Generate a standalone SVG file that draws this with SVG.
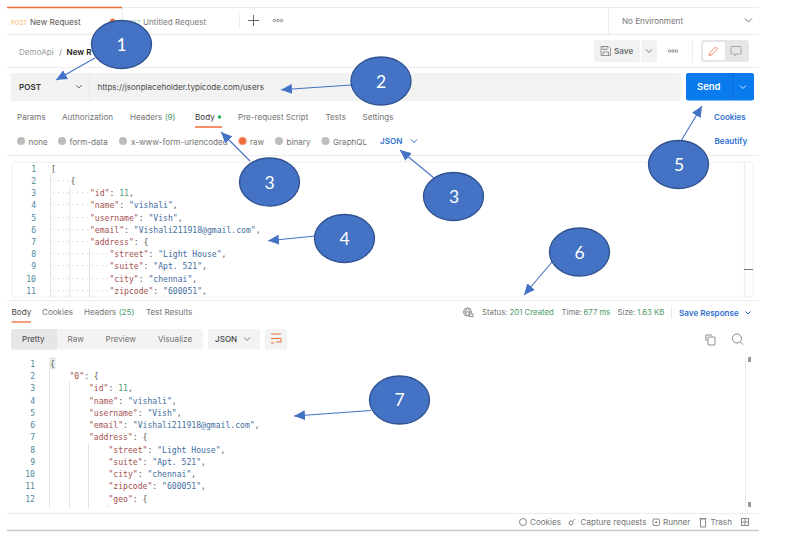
<svg xmlns="http://www.w3.org/2000/svg" width="800" height="558" viewBox="0 0 800 558">
<defs>
<marker id="ah" markerUnits="userSpaceOnUse" markerWidth="12" markerHeight="10" refX="11" refY="5" orient="auto"><path d="M0 0L11 5L0 10Z" fill="#4472c4"/></marker>
<clipPath id="respClip"><rect x="7" y="355" width="740" height="153"/></clipPath>
</defs>
<style>
text{font-family:"Inter","Liberation Sans",sans-serif;font-size:8.1px;fill:#747474}
.m{font-family:"DejaVu Sans Mono","Liberation Mono",monospace;font-size:8.1px;white-space:pre}
.n{fill:#4d8a9c;text-anchor:end}
.k{fill:#a5524f}.s{fill:#3f6e9e}.g{fill:#4f9a73}.p{fill:#555}
.dots{fill:#d4d4d4}
.d{fill:#212121;font-weight:600}
.b{fill:#2f6fd0;font-weight:600}
.gr{fill:#4f9a6b}
.l{stroke:#ececec;stroke-width:1;fill:none}
.i{stroke:#e2e2e2;stroke-width:1;fill:none}
.c{fill:none;stroke:#777;stroke-width:1}
.r{fill:#bdbdbd}
.o{fill:#4472c4;stroke:#2f528f;stroke-width:1.3}
.t{font-family:"Lato","Liberation Sans",sans-serif;font-size:17.5px;fill:#fff;text-anchor:middle}
.a{stroke:#4472c4;stroke-width:1.1;fill:none;marker-end:url(#ah)}
</style>
<rect width="800" height="558" fill="#fff"/>
<g id="app-chrome">
<path class="l" d="M7 7.5H759M7 34.5H759M7 67.5H759M7 155.5H759M7 300.5H759M7 513.5H759"/>
<path d="M7 7.5H122" stroke="#f26b3a" stroke-width="1.5"/>
<path class="l" d="M122.500 7V34M239.500 14V28M608.500 7V34"/>
<path d="M7 530.500H759" stroke="#c9c9c9" stroke-width="1.5"/>
<text x="11" y="24.500" style="fill:#f5b267;font-size:6px">POST</text>
<text x="30" y="24.500" style="fill:#555">New Request</text>
<circle cx="112.500" cy="21" r="2.500" fill="#f26b3a"/>
<text x="129" y="24.500" style="fill:#8bc7a4;font-size:6px">GET</text>
<text x="143" y="24.500" style="fill:#7d7d7d">Untitled Request</text>
<path d="M253.500 15V26M248 20.500H259" stroke="#666" stroke-width="1"/>
<g fill="none" stroke="#777" stroke-width=".8"><circle cx="274.500" cy="20.500" r="1.300"/><circle cx="278" cy="20.500" r="1.300"/><circle cx="281.500" cy="20.500" r="1.300"/></g>
<text x="622" y="23.500" style="fill:#777">No Environment</text>
<path class="c" d="M745 18.500L748.500 22L752 18.500"/>
<text x="19" y="54.500" style="fill:#9a9a9a">DemoApi</text>
<text x="59" y="54.500" style="fill:#888">/</text>
<text x="66.500" y="54.500" class="d">New R</text>
<rect x="594" y="40" width="46" height="22" rx="2" fill="#f2f2f2"/>
<rect x="641" y="40" width="16" height="22" rx="2" fill="#f2f2f2"/>
<path d="M601 46.500H608.500L610.500 48.500V55.500H601ZM603 46.500V49.500H607V46.500M603 55.500V52H608.500V55.500" fill="none" stroke="#888" stroke-width=".9"/>
<text x="614" y="54" style="fill:#6e6e6e;font-weight:600">Save</text>
<path class="c" d="M646 49.500L649 52.500L652 49.500"/>
<g fill="none" stroke="#777" stroke-width=".8"><circle cx="669.500" cy="51" r="1.300"/><circle cx="673" cy="51" r="1.300"/><circle cx="676.500" cy="51" r="1.300"/></g>
<path class="l" d="M692.500 40V62"/>
<rect x="701" y="40" width="48" height="22" rx="3" fill="#e6e6e6"/>
<rect x="703" y="42" width="22" height="18" rx="2" fill="#fff"/>
<path d="M709 56L710 52.500L715.500 47L717.500 49L712 54.500Z" fill="none" stroke="#f0896a" stroke-width="1"/>
<path d="M731 46.500H741V54H736L735 56V54H731Z" fill="none" stroke="#aaa" stroke-width="1"/>
</g>
<g id="request-bar">
<rect x="11" y="73" width="670" height="28" rx="2" fill="#f2f2f2"/>
<path d="M89.500 73V101" stroke="#e8e8e8"/>
<text x="19" y="90" class="d" style="fill:#333">POST</text>
<path class="c" d="M76 85L79 88L82 85"/>
<text x="97.500" y="90" style="fill:#4a4a4a">https://jsonplaceholder.typicode.com/users</text>
<rect x="686" y="73" width="68" height="27.500" rx="2" fill="#0a7bee"/>
<path d="M733 73V100" stroke="#0a6fd8"/>
<text x="697" y="90" style="fill:#fff;font-weight:600;font-size:9.500px">Send</text>
<path d="M740 85.500L743 88.500L746 85.500" fill="none" stroke="#d5e8ff"/>
</g>
<g id="request-tabs">
<text x="17" y="119.500">Params</text>
<text x="62" y="119.500">Authorization</text>
<text x="130" y="119.500">Headers <tspan class="gr">(9)</tspan></text>
<text x="195" y="119.500" style="fill:#333">Body</text>
<circle cx="219.500" cy="117" r="1.800" fill="#1db954"/>
<path d="M195 127H222" stroke="#f26b3a" stroke-width="1.500"/>
<text x="238" y="119.500">Pre-request Script</text>
<text x="325.500" y="119.500">Tests</text>
<text x="362.500" y="119.500">Settings</text>
<text x="714" y="119.500" class="b">Cookies</text>
<circle cx="21" cy="141" r="4" class="r"/><text x="28.500" y="144.500">none</text>
<circle cx="62" cy="141" r="4" class="r"/><text x="69.500" y="144.500">form-data</text>
<circle cx="123" cy="141" r="4" class="r"/><text x="131" y="144.500">x-www-form-urlencoded</text>
<circle cx="242.500" cy="141" r="4" fill="#f26b3a" stroke="#f5b8a0"/><text x="250" y="144.500">raw</text>
<circle cx="279" cy="141" r="4" class="r"/><text x="286.500" y="144.500">binary</text>
<circle cx="325.500" cy="141" r="4" class="r"/><text x="333" y="144.500">GraphQL</text>
<text x="380" y="144" class="b">JSON</text>
<path d="M411 139.500L414 142.500L417 139.500" fill="none" stroke="#2f6fd0"/>
<text x="714.500" y="144" class="b">Beautify</text>
</g>
<g id="request-editor">
<rect x="12" y="162" width="741" height="135" rx="2" fill="none" stroke="#eee"/>
<path d="M744.500 162V297" stroke="#eee" stroke-width="1.500"/>
<path d="M744 269.500H753" stroke="#777"/>
<path class="i" d="M50.500 175V297M70 187V297M89.500 248V297"/>
<text class="m n" x="36" y="171.800">1</text><text class="m p" x="51" y="171.800">[</text>
<text class="m n" x="36" y="184">2</text><text class="m dots" x="51" y="184">····<tspan class="p">{</tspan></text>
<text class="m n" x="36" y="196.200">3</text><text class="m dots" x="51" y="196.200">········<tspan class="k">"id"</tspan><tspan class="p">: </tspan><tspan class="g">11</tspan><tspan class="p">,</tspan></text>
<text class="m n" x="36" y="208.400">4</text><text class="m dots" x="51" y="208.400">········<tspan class="k">"name"</tspan><tspan class="p">: </tspan><tspan class="s">"vishali"</tspan><tspan class="p">,</tspan></text>
<text class="m n" x="36" y="220.600">5</text><text class="m dots" x="51" y="220.600">········<tspan class="k">"username"</tspan><tspan class="p">: </tspan><tspan class="s">"Vish"</tspan><tspan class="p">,</tspan></text>
<text class="m n" x="36" y="232.800">6</text><text class="m dots" x="51" y="232.800">········<tspan class="k">"email"</tspan><tspan class="p">: </tspan><tspan class="s">"Vishali211918@gmail.com"</tspan><tspan class="p">,</tspan></text>
<text class="m n" x="36" y="245">7</text><text class="m dots" x="51" y="245">········<tspan class="k">"address"</tspan><tspan class="p">: {</tspan></text>
<text class="m n" x="36" y="257.200">8</text><text class="m dots" x="51" y="257.200">············<tspan class="k">"street"</tspan><tspan class="p">: </tspan><tspan class="s">"Light House"</tspan><tspan class="p">,</tspan></text>
<text class="m n" x="36" y="269.400">9</text><text class="m dots" x="51" y="269.400">············<tspan class="k">"suite"</tspan><tspan class="p">: </tspan><tspan class="s">"Apt. 521"</tspan><tspan class="p">,</tspan></text>
<text class="m n" x="36" y="281.600">10</text><text class="m dots" x="51" y="281.600">············<tspan class="k">"city"</tspan><tspan class="p">: </tspan><tspan class="s">"chennai"</tspan><tspan class="p">,</tspan></text>
<text class="m n" x="36" y="293.800">11</text><text class="m dots" x="51" y="293.800">············<tspan class="k">"zipcode"</tspan><tspan class="p">: </tspan><tspan class="s">"600051"</tspan><tspan class="p">,</tspan></text>
</g>
<g id="response-tabs">
<text x="11.500" y="315" style="fill:#444">Body</text>
<path d="M11.500 322H31" stroke="#f26b3a" stroke-width="1.300"/>
<text x="42" y="315">Cookies</text>
<text x="84" y="315">Headers <tspan class="gr">(25)</tspan></text>
<text x="146" y="315">Test Results</text>
<g fill="none" stroke="#888" stroke-width=".9"><circle cx="467.500" cy="312" r="4"/><ellipse cx="467.500" cy="312" rx="1.800" ry="4"/><path d="M463.500 312H471.500"/><rect x="469.500" y="314" width="3.500" height="2.500" fill="#fff"/></g>
<text x="482" y="315" style="font-size:7.800px">Status:</text><text x="509.500" y="315" class="gr" style="font-size:7.800px">201 Created</text>
<text x="561.500" y="315" style="font-size:7.800px">Time:</text><text x="583.500" y="315" class="gr" style="font-size:7.800px">677 ms</text>
<text x="617.500" y="315" style="font-size:7.800px">Size:</text><text x="637" y="315" class="gr" style="font-size:7.800px">1.63 KB</text>
<path class="l" d="M671.500 306V319"/>
<text x="679" y="315.500" class="b">Save Response</text>
<path d="M745.500 311.500L748 314L750.500 311.500" fill="none" stroke="#2f6fd0"/>
<rect x="11" y="329" width="192" height="20.500" rx="2" fill="#f3f3f3"/>
<rect x="11" y="329" width="46" height="20.500" rx="2" fill="#e6e6e6"/>
<text x="22" y="341.500" style="fill:#444">Pretty</text>
<text x="67.500" y="341.500">Raw</text>
<text x="105.500" y="341.500">Preview</text>
<text x="158" y="341.500">Visualize</text>
<rect x="208" y="329" width="52" height="20.500" rx="2" fill="#f3f3f3"/>
<text x="215" y="341.500" style="fill:#444;font-weight:500">JSON</text>
<path class="c" d="M244 337.500L247 340.500L250 337.500"/>
<rect x="265" y="329" width="22" height="20.500" rx="2" fill="#f3f3f3"/>
<path d="M271 334H281M271 338.500H281V342H276M271 343H274" fill="none" stroke="#e8703a"/>
<rect x="708" y="337" width="7" height="8" rx="1" fill="none" stroke="#888"/>
<path d="M706 341V335H712" fill="none" stroke="#888"/>
<circle cx="737" cy="338.500" r="4.500" fill="none" stroke="#888"/><path d="M740.500 342L743 344.500" stroke="#888"/>
</g>
<g id="response-editor">
<path d="M745.500 357V508" stroke="#eee"/>
<rect x="748" y="357" width="3" height="5" fill="#999"/><rect x="748" y="502" width="3" height="5" fill="#999"/>
<rect x="50" y="358" width="5" height="11" fill="#e6efe6" stroke="#ccc" stroke-width=".5"/>
<g clip-path="url(#respClip)">
<path class="i" d="M49.500 370V508M69.500 382V508M88.500 443V508M108.500 505V508"/>
<text class="m n" x="35" y="366.700">1</text><text class="m p" x="50" y="366.700">{</text>
<text class="m n" x="35" y="379">2</text><text class="m" x="50" y="379" xml:space="preserve">    <tspan class="k">"0"</tspan><tspan class="p">: {</tspan></text>
<text class="m n" x="35" y="391.200">3</text><text class="m" x="50" y="391.200" xml:space="preserve">        <tspan class="k">"id"</tspan><tspan class="p">: </tspan><tspan class="g">11</tspan><tspan class="p">,</tspan></text>
<text class="m n" x="35" y="403.500">4</text><text class="m" x="50" y="403.500" xml:space="preserve">        <tspan class="k">"name"</tspan><tspan class="p">: </tspan><tspan class="s">"vishali"</tspan><tspan class="p">,</tspan></text>
<text class="m n" x="35" y="415.700">5</text><text class="m" x="50" y="415.700" xml:space="preserve">        <tspan class="k">"username"</tspan><tspan class="p">: </tspan><tspan class="s">"Vish"</tspan><tspan class="p">,</tspan></text>
<text class="m n" x="35" y="428">6</text><text class="m" x="50" y="428" xml:space="preserve">        <tspan class="k">"email"</tspan><tspan class="p">: </tspan><tspan class="s">"Vishali211918@gmail.com"</tspan><tspan class="p">,</tspan></text>
<text class="m n" x="35" y="440.300">7</text><text class="m" x="50" y="440.300" xml:space="preserve">        <tspan class="k">"address"</tspan><tspan class="p">: {</tspan></text>
<text class="m n" x="35" y="452.500">8</text><text class="m" x="50" y="452.500" xml:space="preserve">            <tspan class="k">"street"</tspan><tspan class="p">: </tspan><tspan class="s">"Light House"</tspan><tspan class="p">,</tspan></text>
<text class="m n" x="35" y="464.700">9</text><text class="m" x="50" y="464.700" xml:space="preserve">            <tspan class="k">"suite"</tspan><tspan class="p">: </tspan><tspan class="s">"Apt. 521"</tspan><tspan class="p">,</tspan></text>
<text class="m n" x="35" y="477">10</text><text class="m" x="50" y="477" xml:space="preserve">            <tspan class="k">"city"</tspan><tspan class="p">: </tspan><tspan class="s">"chennai"</tspan><tspan class="p">,</tspan></text>
<text class="m n" x="35" y="489.300">11</text><text class="m" x="50" y="489.300" xml:space="preserve">            <tspan class="k">"zipcode"</tspan><tspan class="p">: </tspan><tspan class="s">"600051"</tspan><tspan class="p">,</tspan></text>
<text class="m n" x="35" y="501.700">12</text><text class="m" x="50" y="501.700" xml:space="preserve">            <tspan class="k">"geo"</tspan><tspan class="p">: {</tspan></text>
</g>
</g>
<g id="status-bar">
<circle cx="523" cy="522" r="3.500" fill="none" stroke="#888"/>
<text x="530" y="525">Cookies</text>
<circle cx="571" cy="523" r="2" fill="none" stroke="#888"/><path d="M572.500 521.500L575 519" stroke="#888"/>
<text x="580.500" y="525">Capture requests</text>
<rect x="653" y="519" width="6.500" height="6.500" rx="1" fill="none" stroke="#888"/><circle cx="656.200" cy="522.200" r="1" fill="#777"/>
<text x="663" y="525">Runner</text>
<path d="M700.500 519H705.500V527H700.500ZM699.500 518.500H706.500" fill="none" stroke="#888"/>
<text x="710.500" y="525">Trash</text>
<rect x="741.500" y="518.500" width="7" height="7" fill="none" stroke="#888"/><path d="M745 518.500V525.500M741.500 522H748.500" stroke="#888"/>
</g>
<g id="connectors">
<path class="a" d="M95 58L56 80"/>
<path class="a" d="M351 85L281 89.700"/>
<path class="a" d="M250 161L221 132"/>
<path class="a" d="M434 178L400 150"/>
<path class="a" d="M315 236L268 240.700"/>
<path class="a" d="M681 141L702 106"/>
<path class="a" d="M552 262L524 295"/>
<path class="a" d="M371 410.500L294 416"/>
</g>
<g id="node-1"><ellipse class="o" cx="121.500" cy="44.500" rx="30" ry="24"/><text class="t" x="121.500" y="50.500">1</text></g>
<g id="node-2"><ellipse class="o" cx="381" cy="81" rx="30" ry="24"/><text class="t" x="381" y="87.500">2</text></g>
<g id="node-3a"><ellipse class="o" cx="269.500" cy="182" rx="30" ry="24"/><text class="t" x="269.500" y="188.500">3</text></g>
<g id="node-3b"><ellipse class="o" cx="453.500" cy="196.500" rx="30" ry="24"/><text class="t" x="454" y="202.500">3</text></g>
<g id="node-4"><ellipse class="o" cx="344.500" cy="238.500" rx="30" ry="24"/><text class="t" x="344.500" y="244.500">4</text></g>
<g id="node-5"><ellipse class="o" cx="678.500" cy="164.500" rx="30" ry="24"/><text class="t" x="679" y="170.500">5</text></g>
<g id="node-6"><ellipse class="o" cx="579.500" cy="252" rx="30" ry="24"/><text class="t" x="579.500" y="258.500">6</text></g>
<g id="node-7"><ellipse class="o" cx="399.500" cy="400" rx="30" ry="24"/><text class="t" x="399.500" y="406">7</text></g>
</svg>
